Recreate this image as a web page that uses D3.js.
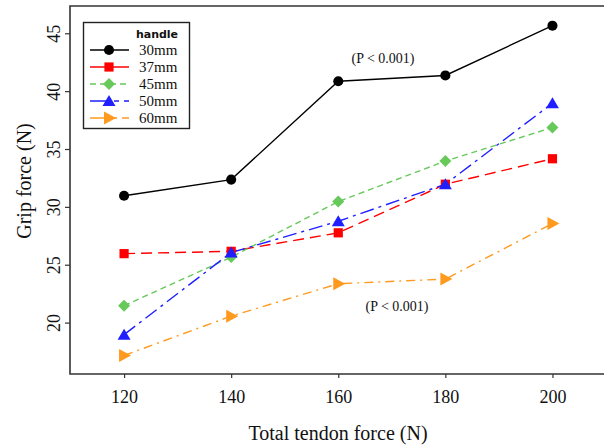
<!DOCTYPE html>
<html><head><meta charset="utf-8">
<script src="https://cdn.jsdelivr.net/npm/d3@7"></script>
<style>body{margin:0;background:#fff}svg{display:block}</style>
</head><body>
<script>
const xValues = [120, 140, 160, 180, 200];
const seriesNames = ["30mm", "37mm", "45mm", "50mm", "60mm"];
const v30 = [31.0, 32.4, 40.9, 41.4, 45.7];
const v37 = [26.0, 26.2, 27.8, 32.0, 34.2];
const v45 = [21.5, 25.7, 30.5, 34.0, 36.9];
const v50 = [19.0, 26.1, 28.8, 32.0, 39.0];
const v60 = [17.2, 20.6, 23.4, 23.8, 28.6];
const yTicks = [20, 25, 30, 35, 40, 45];
const xTicks = [120, 140, 160, 180, 200];

const colors = ["#000000", "#ff0000", "#66c95a", "#1f1fff", "#ff9a1f"];
const dashes = [null, "11,6", "6,4", "14,5,3,5", "9,5,2,5"];
const allVals = [v30, v37, v45, v50, v60];

const W = 604, H = 447;
const svg = d3.select("body").append("svg").attr("width", W).attr("height", H);
const L = 70, T = 6, R = 606, B = 374;
const x = d3.scaleLinear().domain([109.9, 210]).range([L, R]);
const y = d3.scaleLinear().domain([15.6, 47.4]).range([B, T]);

const serif = "'Liberation Serif','Times New Roman',serif";
const axisCol = "#333";

// frame
svg.append("path").attr("d", `M${R},${T}H${L}V${B}H${R}`)
  .attr("fill", "none").attr("stroke", axisCol).attr("stroke-width", 1.6);

// axes
const xa = svg.append("g").attr("transform", `translate(0,${B})`)
  .call(d3.axisBottom(x).tickValues(xTicks).tickSize(4).tickPadding(12).tickFormat(d3.format("d")));
xa.select(".domain").remove();
xa.selectAll("line").attr("stroke", axisCol).attr("stroke-width", 1.2);
xa.selectAll("text").attr("font-family", serif).attr("font-size", 18).attr("fill", "#111");

const ya = svg.append("g").attr("transform", `translate(${L},0)`)
  .call(d3.axisLeft(y).tickValues(yTicks).tickSize(5).tickFormat(d3.format("d")));
ya.select(".domain").remove();
ya.selectAll("line").attr("stroke", axisCol).attr("stroke-width", 1.2);
ya.selectAll(".tick").each(function(d){
  const g = d3.select(this);
  g.attr("transform", null);
  g.select("line").attr("transform", `translate(0,${y(d)})`);
  g.select("text").attr("font-family", serif).attr("font-size", 18).attr("fill", "#111")
    .attr("transform", "rotate(-90)").attr("x", -y(d)).attr("y", -10)
    .attr("dy", 0).attr("text-anchor", "middle");
});

// axis titles
svg.append("text").attr("x", 338).attr("y", 440).attr("text-anchor", "middle")
  .attr("font-family", serif).attr("font-size", 20).attr("fill", "#111").text("Total tendon force (N)");
svg.append("text").attr("transform", "translate(31,181) rotate(-90)").attr("text-anchor", "middle")
  .attr("font-family", serif).attr("font-size", 20).attr("fill", "#111").text("Grip force (N)");

const symbolPaths = [
  d3.symbol().type(d3.symbolCircle).size(80)(),
  "M-4.6,-4.6H4.6V4.6H-4.6Z",
  "M0,-6L6,0L0,6L-6,0Z",
  "M0,-6L6.5,5L-6.5,5Z",
  "M-5,-6.5L7,0L-5,6.5Z"
];

const line = d3.line().x(d => x(d[0])).y(d => y(d[1]));
allVals.forEach((vals, i) => {
  const pts = xValues.map((xv, j) => [xv, vals[j]]);
  svg.append("path").datum(pts).attr("d", line).attr("fill", "none")
    .attr("stroke", colors[i]).attr("stroke-width", 1.4)
    .attr("stroke-dasharray", dashes[i]);
});
allVals.forEach((vals, i) => {
  const pts = xValues.map((xv, j) => [xv, vals[j]]);
  svg.selectAll(null).data(pts).enter().append("path")
    .attr("d", symbolPaths[i])
    .attr("transform", d => `translate(${x(d[0])},${y(d[1])})`)
    .attr("fill", colors[i]);
});

// annotations
svg.append("text").attr("x", 383).attr("y", 63).attr("text-anchor", "middle")
  .attr("font-family", serif).attr("font-size", 14).attr("fill", "#111").text("(P < 0.001)");
svg.append("text").attr("x", 397).attr("y", 311).attr("text-anchor", "middle")
  .attr("font-family", serif).attr("font-size", 14).attr("fill", "#111").text("(P < 0.001)");

// legend
const lg = svg.append("g");
lg.append("rect").attr("x", 83.5).attr("y", 22.5).attr("width", 106).attr("height", 106)
  .attr("fill", "#fff").attr("stroke", "#222").attr("stroke-width", 1.4);
lg.append("text").attr("x", 157).attr("y", 38).attr("text-anchor", "middle")
  .attr("font-family", "'DejaVu Sans','Noto Sans',sans-serif").attr("font-weight", "bold")
  .attr("font-size", 11).attr("fill", "#111").text("handle");
const legDash = [null, null, "6,4", "19,5,5,5", "19,5,3,5"];
seriesNames.forEach((n, i) => {
  const yy = 50 + i * 17;
  lg.append("line").attr("x1", 90).attr("x2", 129).attr("y1", yy).attr("y2", yy)
    .attr("stroke", colors[i]).attr("stroke-width", 1.4).attr("stroke-dasharray", legDash[i]);
  lg.append("path").attr("d", symbolPaths[i]).attr("transform", `translate(109,${yy})`).attr("fill", colors[i]);
  lg.append("text").attr("x", 139).attr("y", yy + 5).attr("font-family", serif)
    .attr("font-size", 15).attr("fill", "#111").text(n);
});
</script>
</body></html>
